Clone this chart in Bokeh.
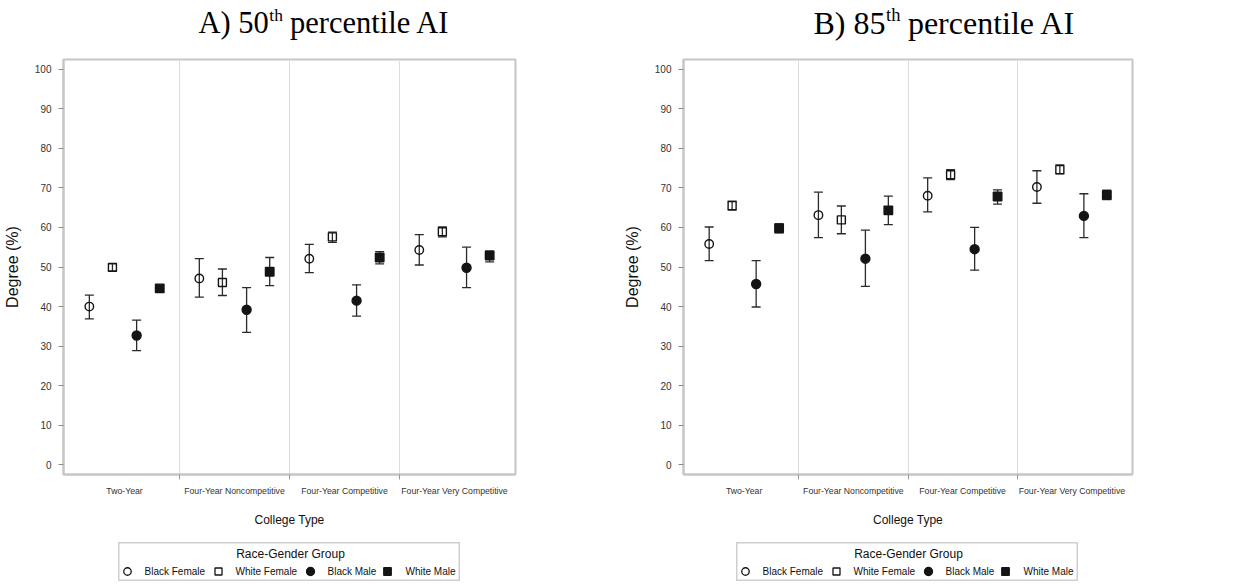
from bokeh.plotting import figure
from bokeh.models import Range1d, FixedTicker, Whisker, TeeHead, ColumnDataSource, Spacer
from bokeh.layouts import row, column
from bokeh.embed import file_html
from bokeh.resources import INLINE
from bokeh.core.properties import value

# ---------------- data ----------------
categories = ["Two-Year", "Four-Year Noncompetitive", "Four-Year Competitive", "Four-Year Very Competitive"]
groups = ["Black Female", "White Female", "Black Male", "White Male"]

# Panel A: 50th percentile AI
a_black_female = [40.0, 47.1, 52.1, 54.3]
a_black_female_lo = [36.9, 42.4, 48.6, 50.5]
a_black_female_hi = [42.9, 52.1, 55.7, 58.2]
a_white_female = [49.9, 46.1, 57.6, 58.9]
a_white_female_lo = [49.0, 42.8, 56.2, 57.6]
a_white_female_hi = [50.8, 49.5, 58.8, 60.1]
a_black_male = [32.7, 39.2, 41.5, 49.8]
a_black_male_lo = [28.9, 33.5, 37.6, 44.8]
a_black_male_hi = [36.6, 44.8, 45.5, 55.0]
a_white_male = [44.6, 48.8, 52.4, 52.9]
a_white_male_lo = [43.6, 45.3, 50.8, 51.3]
a_white_male_hi = [45.5, 52.4, 53.9, 54.0]

# Panel B: 85th percentile AI
b_black_female = [55.8, 63.1, 68.0, 70.2]
b_black_female_lo = [51.6, 57.4, 63.9, 66.1]
b_black_female_hi = [60.1, 68.9, 72.5, 74.3]
b_white_female = [65.5, 61.9, 73.3, 74.6]
b_white_female_lo = [64.4, 58.4, 72.1, 73.5]
b_white_female_hi = [66.6, 65.4, 74.6, 75.8]
b_black_male = [45.7, 52.1, 54.5, 62.9]
b_black_male_lo = [39.9, 45.1, 49.2, 57.4]
b_black_male_hi = [51.6, 59.3, 60.0, 68.5]
b_white_male = [59.8, 64.3, 67.8, 68.2]
b_white_male_lo = [58.6, 60.7, 65.9, 67.0]
b_white_male_hi = [60.9, 67.9, 69.5, 69.4]

y_ticks = [0, 10, 20, 30, 40, 50, 60, 70, 80, 90, 100]

# ---------------- style ----------------
group_offsets = [-0.32, -0.11, 0.11, 0.32]
group_markers = ["circle", "square", "circle", "square"]
group_filled = [False, False, True, True]
group_sizes = [8.5, 8, 9, 8.5]
INK = "#141414"
SANS = "Liberation Sans"
SERIF = "Liberation Serif"
X0, X1 = -0.055, 4.055
Y0, Y1 = -2.4, 102.4
TITLE_H = 45


def make_panel(series, width, height, bl, bt, br, bb):
    p = figure(width=width, height=height, output_backend="svg", toolbar_location=None,
               x_range=Range1d(X0, X1), y_range=Range1d(Y0, Y1),
               min_border_left=bl, min_border_top=bt, min_border_right=br, min_border_bottom=bb,
               background_fill_color="white", border_fill_color="white")
    p.outline_line_color = "#c6c6c6"
    p.outline_line_width = 2

    # x axis
    p.xaxis.ticker = FixedTicker(ticks=[i + 0.5 for i in range(len(categories))],
                                 minor_ticks=[i for i in range(1, len(categories))])
    p.xaxis.major_label_overrides = {i + 0.5: c for i, c in enumerate(categories)}
    p.xaxis.major_tick_line_color = None
    p.xaxis.major_tick_out = 0
    p.xaxis.major_tick_in = 0
    p.xaxis.minor_tick_line_color = "#9a9a9a"
    p.xaxis.minor_tick_out = 5
    p.xaxis.minor_tick_in = 0
    p.xaxis.axis_line_color = "#c6c6c6"
    p.xaxis.axis_line_width = 2
    p.xaxis.major_label_text_font = SANS
    p.xaxis.major_label_text_font_size = "8.7px"
    p.xaxis.major_label_text_color = "#333333"
    p.xaxis.major_label_standoff = 6
    p.xaxis.axis_label = "College Type"
    p.xaxis.axis_label_text_font = SANS
    p.xaxis.axis_label_text_font_size = "12px"
    p.xaxis.axis_label_text_font_style = "normal"
    p.xaxis.axis_label_text_color = "#111111"
    p.xaxis.axis_label_standoff = 14

    # y axis
    p.yaxis.ticker = FixedTicker(ticks=y_ticks, minor_ticks=[])
    p.yaxis.major_tick_out = 5
    p.yaxis.major_tick_in = 0
    p.yaxis.major_tick_line_color = "#8a8a8a"
    p.yaxis.axis_line_color = "#c6c6c6"
    p.yaxis.axis_line_width = 2
    p.yaxis.major_label_text_font = SANS
    p.yaxis.major_label_text_font_size = "10px"
    p.yaxis.major_label_text_color = "#333333"
    p.yaxis.major_label_standoff = 7
    p.yaxis.axis_label = "Degree (%)"
    p.yaxis.axis_label_text_font = SANS
    p.yaxis.axis_label_text_font_size = "16px"
    p.yaxis.axis_label_text_font_style = "normal"
    p.yaxis.axis_label_text_color = "#111111"
    p.yaxis.axis_label_standoff = 11

    # grids: only vertical separators between college types
    p.ygrid.grid_line_color = None
    p.xgrid.ticker = FixedTicker(ticks=[i for i in range(1, len(categories))])
    p.xgrid.grid_line_color = "#dedede"
    p.xgrid.grid_line_width = 1

    for g, (vals, lo, hi) in enumerate(series):
        xs = [i + 0.5 + group_offsets[g] for i in range(len(categories))]
        src = ColumnDataSource(dict(x=xs, y=vals, lo=lo, hi=hi))
        w = Whisker(source=src, base="x", lower="lo", upper="hi", dimension="height",
                    line_color="#2a2a2a", line_width=1.3,
                    upper_head=TeeHead(size=9, line_color="#2a2a2a", line_width=1.3),
                    lower_head=TeeHead(size=9, line_color="#2a2a2a", line_width=1.3))
        p.add_layout(w)
        p.scatter("x", "y", source=src, marker=group_markers[g], size=group_sizes[g],
                  line_color=INK, line_width=1.4,
                  fill_color=INK if group_filled[g] else None)
    return p


def make_title(width, pre, sup, post, x_start, fs_main, fs_sup):
    """Panel heading with a superscript, drawn in a small pixel-space figure."""
    t = figure(width=width, height=TITLE_H, output_backend="svg", toolbar_location=None,
               x_range=Range1d(0, width), y_range=Range1d(TITLE_H, 0),
               x_axis_type=None, y_axis_type=None, min_border=0)
    t.outline_line_color = None
    t.xgrid.visible = False
    t.ygrid.visible = False
    widths = {'A': .722, 'B': .667, ')': .333, ' ': .25, '5': .5, '0': .5, '8': .5}
    pre_w = sum(widths[ch] for ch in pre) * fs_main
    sup_w = (0.278 + 0.5) * fs_sup
    base_y, sup_base_y = 32, 20
    main_mid = base_y - 0.31 * fs_main
    sup_mid = sup_base_y - 0.31 * fs_sup
    t.text(x=[x_start], y=[main_mid], text=[pre], text_font=value(SERIF),
           text_font_size=f"{fs_main}px", text_color="#000000", text_baseline="middle")
    t.text(x=[x_start + pre_w + 0.5], y=[sup_mid], text=[sup], text_font=value(SERIF),
           text_font_size=f"{fs_sup}px", text_color="#000000", text_baseline="middle")
    t.text(x=[x_start + pre_w + sup_w + 0.25 * fs_main], y=[main_mid], text=[post], text_font=value(SERIF),
           text_font_size=f"{fs_main}px", text_color="#000000", text_baseline="middle")
    return t


def make_legend():
    lw, lh = 342, 39
    l = figure(width=lw, height=lh, output_backend="svg", toolbar_location=None,
               x_range=Range1d(0, lw), y_range=Range1d(lh, 0),
               x_axis_type=None, y_axis_type=None, min_border=0)
    l.outline_line_color = "#cfcfcf"
    l.outline_line_width = 2
    l.xgrid.visible = False
    l.ygrid.visible = False
    l.text(x=[172], y=[11.5], text=["Race-Gender Group"], text_align="center", text_baseline="middle",
           text_font=value(SANS), text_font_size="12px", text_color="#111111")
    mx = [9, 100, 192, 269]
    tx = [26, 117, 209, 287]
    for g in range(len(groups)):
        l.scatter([mx[g]], [29], marker=group_markers[g], size=group_sizes[g] - 1,
                  line_color=INK, line_width=1.3, fill_color=INK if group_filled[g] else None)
        l.text(x=[tx[g]], y=[29], text=[groups[g]], text_align="left", text_baseline="middle",
               text_font=value(SANS), text_font_size="10px", text_color="#111111")
    return l


series_a = [(a_black_female, a_black_female_lo, a_black_female_hi),
            (a_white_female, a_white_female_lo, a_white_female_hi),
            (a_black_male, a_black_male_lo, a_black_male_hi),
            (a_white_male, a_white_male_lo, a_white_male_hi)]
series_b = [(b_black_female, b_black_female_lo, b_black_female_hi),
            (b_white_female, b_white_female_lo, b_white_female_hi),
            (b_black_male, b_black_male_lo, b_black_male_hi),
            (b_white_male, b_white_male_lo, b_white_male_hi)]

ta = make_title(620, "A) 50", "th", "percentile AI", 198, 30.5, 17.5)
tb = make_title(620, "B) 85", "th", "percentile AI", 813 - 620, 32, 18.5)

# left panel: canvas x 0..620, frame 63..515 ; y 45..542, frame 59..474
pa = make_panel(series_a, 620, 542 - TITLE_H, 63, 59 - TITLE_H, 105, 68)
# right panel: canvas x 620..1240, frame 681..1132 ; frame 57..476
pb = make_panel(series_b, 620, 542 - TITLE_H, 61, 57 - TITLE_H, 108, 66)

la = make_legend()
lb = make_legend()

layout = column(row(ta, tb),
                row(pa, pb),
                row(Spacer(width=118, height=39), la, Spacer(width=276, height=39), lb))

open("out.html", "w").write(file_html(layout, INLINE))
